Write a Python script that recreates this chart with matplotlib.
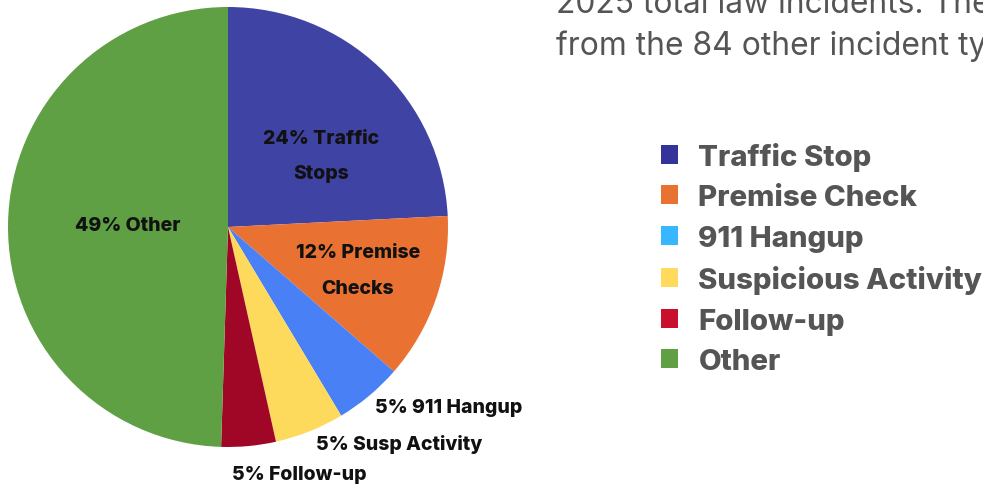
import matplotlib
matplotlib.use("Agg")
import matplotlib.pyplot as plt
from matplotlib.patches import Patch

# ---- data ----
categories = ["Traffic Stop", "Premise Check", "911 Hangup",
              "Suspicious Activity", "Follow-up", "Other"]
shares = [24.2, 12.2, 5.0, 5.1, 4.0, 49.5]
slice_labels = ["24% Traffic\nStops", "12% Premise\nChecks", "5% 911 Hangup",
                "5% Susp Activity", "5% Follow-up", "49% Other"]
pie_colors = ["#3F43A3", "#E97132", "#4A80F5", "#FEDA5C", "#A00726", "#5FA044"]
legend_colors = ["#33339A", "#E97132", "#38B6FF", "#FFDA5C", "#C8102E", "#5FA044"]
intro_lines = ["2025 total law incidents. The",
               "from the 84 other incident types"]

# label placement (axes data units, radius = 1)
label_pos = [(0.425, 0.325, "center"), (0.59, -0.195, "center"),
             (0.668, -0.818, "left"), (0.40, -0.985, "left"),
             (0.018, -1.122, "left"), (-0.455, 0.01, "center")]

W, H = 983, 489
fig = plt.figure(figsize=(W / 100, H / 100), dpi=100)
fig.patch.set_facecolor("white")

cx, cy, r = 228, 228, 220
ax = fig.add_axes([(cx - r) / W, (H - cy - r) / H, 2 * r / W, 2 * r / H])
wedges, _ = ax.pie(shares, colors=pie_colors, startangle=90, counterclock=False,
                   radius=1, wedgeprops=dict(linewidth=0))
ax.set_xlim(-1, 1)
ax.set_ylim(-1, 1)
ax.set_aspect("equal")
ax.axis("off")

for lab, (x, y, ha) in zip(slice_labels, label_pos):
    ax.text(x, y, lab, ha=ha, va="center", fontsize=14, fontweight=800,
            family=["Inter", "DejaVu Sans"], color="#111111", linespacing=2.25)

handles = [Patch(facecolor=c, edgecolor="none") for c in legend_colors]
leg = fig.legend(handles, categories, loc="upper left",
                 bbox_to_anchor=(634 / W, 1 - 116 / H), frameon=False,
                 handlelength=0.61, handleheight=0.61, handletextpad=0.68,
                 labelspacing=0.46,
                 prop=dict(family=["Inter", "DejaVu Sans"], weight=800, size=21.2))
for t in leg.get_texts():
    t.set_color("#555555")

for i, line in enumerate(intro_lines):
    fig.text(556 / W, 1 - (13 + 42 * i) / H, line, ha="left", va="baseline",
             fontsize=22.9, family=["Inter", "DejaVu Sans"], color="#555555")

fig.savefig("out.png", dpi=100, facecolor="white")
